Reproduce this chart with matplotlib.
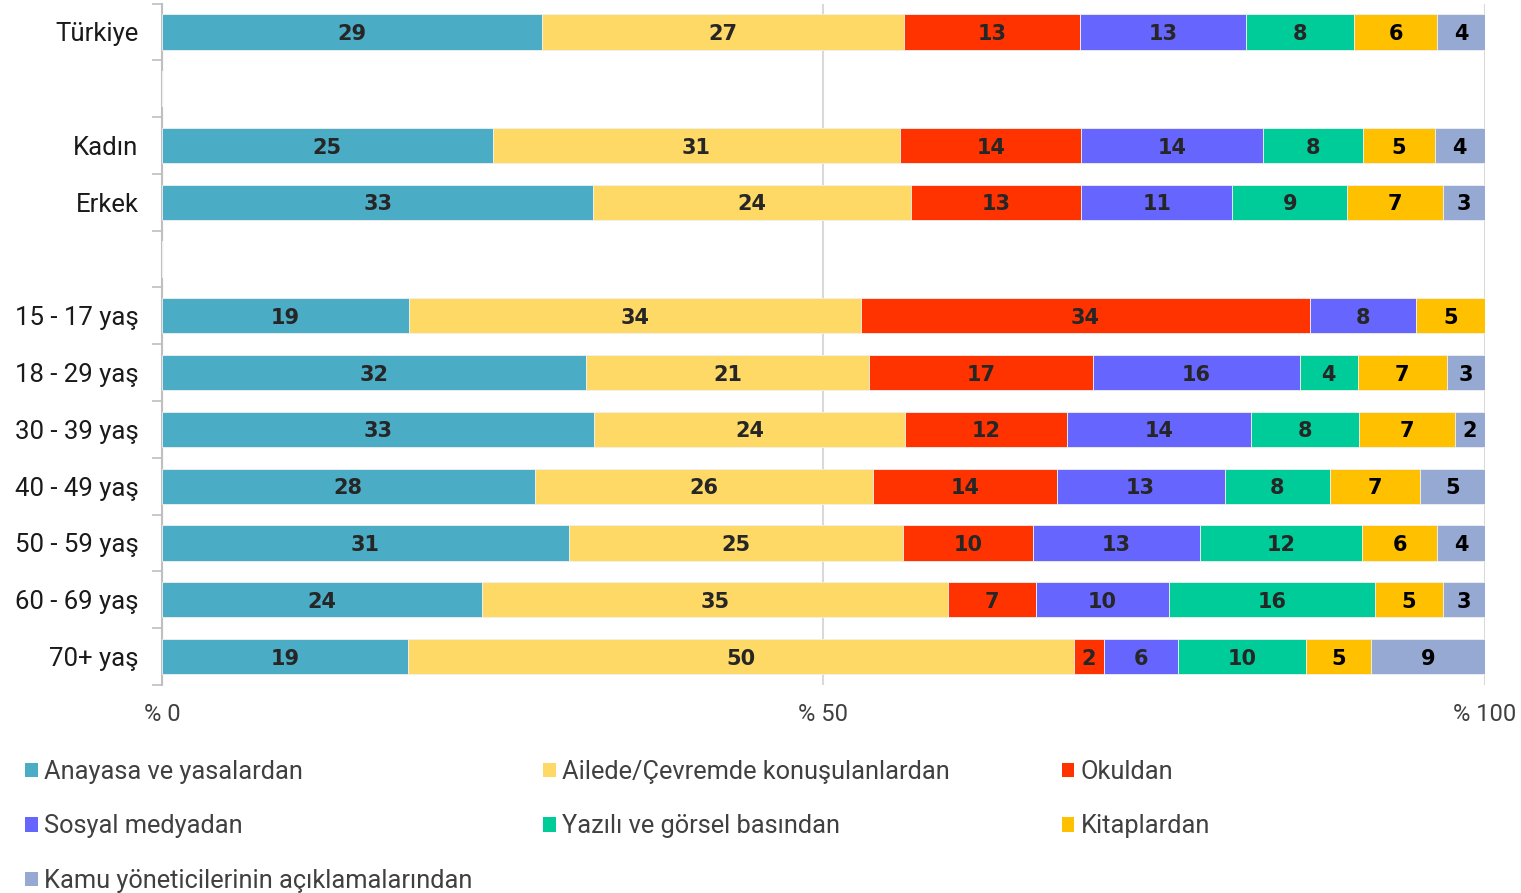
import numpy as np
import matplotlib
matplotlib.use('Agg')
import matplotlib.pyplot as plt
from matplotlib.patches import Patch

# Categories (empty strings are spacer rows)
categories = ['Türkiye', '', 'Kadın', 'Erkek', '',
              '15 - 17 yaş', '18 - 29 yaş', '30 - 39 yaş', '40 - 49 yaş',
              '50 - 59 yaş', '60 - 69 yaş', '70+ yaş']

series_names = ['Anayasa ve yasalardan', 'Ailede/Çevremde konuşulanlardan', 'Okuldan',
                'Sosyal medyadan', 'Yazılı ve görsel basından', 'Kitaplardan',
                'Kamu yöneticilerinin açıklamalarından']

# Shares in % per series (None = spacer row)
anayasa = [28.8, None, 25.0, 32.6, None, 18.7, 32.0, 32.7, 28.2, 30.8, 24.2, 18.6]
ailede  = [27.4, None, 30.8, 24.0, None, 34.1, 21.4, 23.5, 25.6, 25.3, 35.3, 50.3]
okuldan = [13.3, None, 13.7, 12.9, None, 34.0, 16.9, 12.3, 13.9, 9.9, 6.6, 2.3]
sosyal  = [12.6, None, 13.7, 11.4, None, 8.0, 15.6, 13.9, 12.7, 12.6, 10.1, 5.6]
yazili  = [8.2, None, 7.6, 8.7, None, 0.0, 4.4, 8.2, 8.0, 12.3, 15.6, 9.7]
kitap   = [6.3, None, 5.4, 7.2, None, 5.2, 6.7, 7.2, 6.8, 5.7, 5.1, 4.9]
kamu    = [3.6, None, 3.8, 3.2, None, 0.0, 2.9, 2.3, 4.9, 3.6, 3.2, 8.6]

colors = ['#4BACC6', '#FFD966', '#FF3300', '#6666FF', '#00CC99', '#FFC000', '#95A9D2']
label_colors = ['#262626', '#262626', '#262626', '#262626', '#262626', '#000000', '#000000']

raw = np.array([[np.nan if v is None else v for v in s]
                for s in [anayasa, ailede, okuldan, sosyal, yazili, kitap, kamu]], dtype=float)
totals = np.nansum(raw, axis=0)
totals[totals == 0] = 1
pct = np.nan_to_num(raw) / totals * 100

fig = plt.figure(figsize=(15.21, 8.93), dpi=100)
ax = fig.add_axes([0.1065, 0.233, 0.8698, 0.763])

y = np.arange(len(categories))
left = np.zeros(len(categories))
for i, name in enumerate(series_names):
    bars = ax.barh(y, pct[i], left=left, height=0.62, color=colors[i],
                   edgecolor='#F0F0F0', linewidth=0.6, label=name, zorder=3)
    labels = ['' if (np.isnan(v) or v == 0) else f'{v:.0f}' for v in raw[i]]
    texts = ax.bar_label(bars, labels=labels, label_type='center', fontsize=15,
                         family='DejaVu Sans', fontweight='bold', color=label_colors[i])
    for t in texts:
        t.set_va('center_baseline')
    left += pct[i]

ax.set_xlim(0, 100)
ax.set_ylim(len(categories) - 0.5, -0.5)

# y axis: labels at centres, tick marks at boundaries
ax.set_yticks(y)
ax.set_yticklabels(categories, fontsize=18.5, color='#1a1a1a', family='Roboto')
ax.tick_params(axis='y', which='major', length=0, pad=17)
ax.set_yticks(np.arange(-0.5, len(categories)), minor=True)
ax.tick_params(axis='y', which='minor', length=7, color='#BFBFBF', width=1.2)

ax.set_xticks([0, 50, 100])
ax.set_xticklabels(['% 0', '% 50', '% 100'], fontsize=17, color='#404040', family='Roboto')
ax.tick_params(axis='x', length=0, pad=13)
ax.grid(axis='x', color='#D9D9D9', linewidth=1.5, zorder=0)

for s in ['top', 'right', 'bottom']:
    ax.spines[s].set_visible(False)
ax.spines['left'].set_color('#BFBFBF')
ax.spines['left'].set_linewidth(1.5)

# legend, three columns filled row-wise
handles = [Patch(facecolor=c) for c in colors]
col_x = [0.0164, 0.357, 0.698]
cols = [[0, 3, 6], [1, 4], [2, 5]]
for cx, idx in zip(col_x, cols):
    fig.legend([handles[k] for k in idx], [series_names[k] for k in idx],
               loc='upper left', bbox_to_anchor=(cx, 0.149), frameon=False,
               prop={'family': 'Roboto', 'size': 18.3}, labelcolor='#404040',
               handlelength=0.5, handleheight=0.5, handletextpad=0.25,
               labelspacing=1.2, borderaxespad=0, borderpad=0)

fig.savefig('out.png', dpi=100)
